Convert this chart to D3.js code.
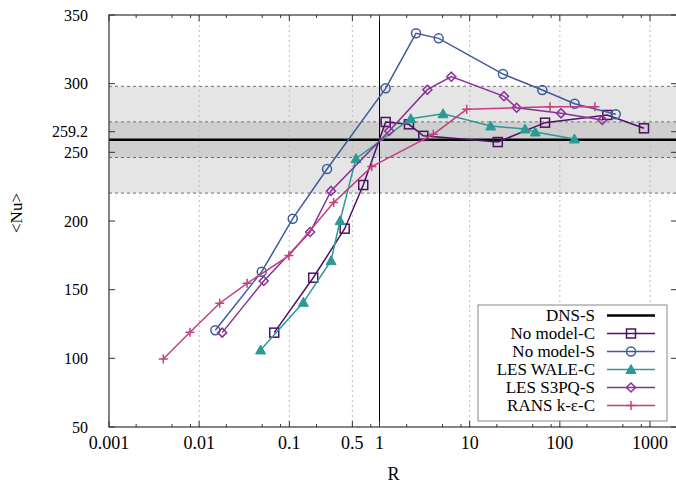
<!DOCTYPE html>
<html>
<head>
<meta charset="utf-8">
<script src="https://cdn.jsdelivr.net/npm/d3@7"></script>
<style>
  body { margin: 0; background: #fff; }
  text { font-family: "Liberation Serif", "DejaVu Serif", serif; fill: #000; }
</style>
</head>
<body>
<div id="chart"></div>
<script>
// reference value and band widths (+-5% and +-15%)
var dnsNu = 259.2;

// x ticks
var xMajor = [0.001, 0.01, 0.1, 0.5, 1, 10, 100, 1000];
var xMajorLabels = ["0.001", "0.01", "0.1", "0.5", "1", "10", "100", "1000"];
var xGrid = [0.01, 0.1, 0.5, 10, 100, 1000];
var xMinor = [0.002, 0.005, 0.008, 0.02, 0.05, 0.08, 0.2, 0.8, 2, 5, 8, 20, 50, 80, 200, 500, 800];

// y ticks (the 259.2 label sits a little above its value)
var yTicks = [50, 100, 150, 200, 250, 265, 300, 350];
var yTickLabels = ["50", "100", "150", "200", "250", "259.2", "300", "350"];

// series
var noModelC_R  = [0.068, 0.184, 0.411, 0.66, 1.17, 2.12, 3.06, 20.5, 68.5, 336, 857];
var noModelC_Nu = [118.7, 158.7, 194.4, 226.2, 272.1, 270.4, 262.0, 257.5, 271.6, 277.2, 267.5];

var noModelS_R  = [0.0151, 0.0494, 0.109, 0.262, 1.17, 2.54, 4.53, 23.4, 63.9, 146, 417];
var noModelS_Nu = [120.4, 163.1, 201.7, 237.9, 296.6, 336.7, 333.0, 307.0, 295.4, 285.4, 277.7];

var waleC_R  = [0.048, 0.143, 0.29, 0.365, 0.548, 2.22, 5.06, 17.1, 41.1, 53.4, 145];
var waleC_Nu = [106.1, 140.8, 171.1, 200.2, 245.4, 274.5, 278.1, 269.2, 267.0, 264.8, 259.7];

var s3pqS_R  = [0.018, 0.052, 0.17, 0.29, 1.28, 3.39, 6.26, 24, 33.2, 103, 296];
var s3pqS_Nu = [118.7, 156.3, 192.0, 221.9, 265.5, 295.6, 305.1, 290.8, 282.5, 278.4, 273.5];

var ransC_R  = [0.004, 0.0079, 0.0169, 0.034, 0.099, 0.31, 0.82, 3.95, 9.27, 77.8, 245];
var ransC_Nu = [99.5, 119.0, 140.1, 154.6, 174.8, 213.4, 239.6, 263.1, 281.3, 283.2, 283.2];

var seriesNames = ["No model-C", "No model-S", "LES WALE-C", "LES S3PQ-S", "RANS k-\u03b5-C"];
var seriesColors = ["#4d1063", "#3f5b9b", "#2b9a94", "#8a2f98", "#c23f80"];
var seriesMarkers = ["square", "circle", "triangle", "diamond", "plus"];

function loadChart() {
  var W = 676, H = 486;
  var left = 109, right = 677, top = 15, bottom = 427;
  var font = "'Liberation Serif', 'DejaVu Serif', serif";

  var svg = d3.select("#chart").append("svg")
    .attr("width", W)
    .attr("height", H)
    .attr("font-family", font);

  var x = d3.scaleLog().domain([0.001, 2000]).range([left, left + 6.301 * 90.17]);
  var y = d3.scaleLinear().domain([50, 350]).range([bottom, top]);

  svg.append("clipPath").attr("id", "plotclip")
    .append("rect").attr("x", left).attr("y", top)
    .attr("width", right - left).attr("height", bottom - top);

  var plot = svg.append("g").attr("clip-path", "url(#plotclip)");

  // +-15% band, then +-5% band
  plot.append("rect")
    .attr("x", left).attr("width", right - left)
    .attr("y", y(dnsNu * 1.15)).attr("height", y(dnsNu * 0.85) - y(dnsNu * 1.15))
    .attr("fill", "#e5e5e5");
  plot.append("rect")
    .attr("x", left).attr("width", right - left)
    .attr("y", y(dnsNu * 1.05)).attr("height", y(dnsNu * 0.95) - y(dnsNu * 1.05))
    .attr("fill", "#cfcfcf");
  [0.85, 0.95, 1.05, 1.15].forEach(function(f) {
    plot.append("line")
      .attr("x1", left).attr("x2", right)
      .attr("y1", y(dnsNu * f)).attr("y2", y(dnsNu * f))
      .attr("stroke", "#707070").attr("stroke-width", 1)
      .attr("stroke-dasharray", "3,3");
  });

  // vertical grid
  plot.selectAll(".vgrid").data(xGrid).enter().append("line")
    .attr("x1", function(d) { return x(d); }).attr("x2", function(d) { return x(d); })
    .attr("y1", top).attr("y2", bottom)
    .attr("stroke", "#bbbbbb").attr("stroke-width", 1)
    .attr("stroke-dasharray", "2,3");

  // R = 1 line
  plot.append("line")
    .attr("x1", x(1)).attr("x2", x(1)).attr("y1", top).attr("y2", bottom)
    .attr("stroke", "#000").attr("stroke-width", 1);

  // DNS line
  plot.append("line")
    .attr("x1", left).attr("x2", right).attr("y1", y(dnsNu)).attr("y2", y(dnsNu))
    .attr("stroke", "#000").attr("stroke-width", 2.5);

  var allR = [noModelC_R, noModelS_R, waleC_R, s3pqS_R, ransC_R];
  var allNu = [noModelC_Nu, noModelS_Nu, waleC_Nu, s3pqS_Nu, ransC_Nu];

  var line = d3.line()
    .x(function(d) { return x(d[0]); })
    .y(function(d) { return y(d[1]); });

  allR.forEach(function(rs, i) {
    var pts = rs.map(function(r, j) { return [r, allNu[i][j]]; });
    var g = plot.append("g");
    g.append("path").datum(pts)
      .attr("d", line)
      .attr("fill", "none")
      .attr("stroke", seriesColors[i])
      .attr("stroke-width", 1.5);
    pts.forEach(function(p) {
      drawMarker(g, seriesMarkers[i], x(p[0]), y(p[1]), seriesColors[i]);
    });
  });

  // frame
  svg.append("rect")
    .attr("x", left).attr("y", top)
    .attr("width", right - left).attr("height", bottom - top)
    .attr("fill", "none").attr("stroke", "#333").attr("stroke-width", 1.2);

  // ticks
  var ticks = svg.append("g").attr("stroke", "#333").attr("stroke-width", 1);
  xMajor.forEach(function(v) {
    ticks.append("line").attr("x1", x(v)).attr("x2", x(v)).attr("y1", bottom).attr("y2", bottom - 6);
    ticks.append("line").attr("x1", x(v)).attr("x2", x(v)).attr("y1", top).attr("y2", top + 6);
  });
  xMinor.forEach(function(v) {
    ticks.append("line").attr("x1", x(v)).attr("x2", x(v)).attr("y1", bottom).attr("y2", bottom - 3);
    ticks.append("line").attr("x1", x(v)).attr("x2", x(v)).attr("y1", top).attr("y2", top + 3);
  });
  yTicks.forEach(function(v) {
    ticks.append("line").attr("x1", left).attr("x2", left + 6).attr("y1", y(v)).attr("y2", y(v));
    ticks.append("line").attr("x1", right).attr("x2", right - 6).attr("y1", y(v)).attr("y2", y(v));
  });

  // tick labels
  svg.append("g").selectAll("text").data(xMajor).enter().append("text")
    .attr("x", function(d) { return x(d); })
    .attr("y", 449)
    .attr("text-anchor", "middle")
    .attr("font-size", "18px")
    .text(function(d, i) { return xMajorLabels[i]; });

  svg.append("g").selectAll("text").data(yTicks).enter().append("text")
    .attr("x", 88)
    .attr("y", function(d) { return y(d) + 5.5; })
    .attr("text-anchor", "end")
    .attr("font-size", "16px")
    .text(function(d, i) { return yTickLabels[i]; });

  // axis titles
  svg.append("text")
    .attr("x", x(1) + 14).attr("y", 480)
    .attr("text-anchor", "middle")
    .attr("font-size", "18px")
    .text("R");
  svg.append("text")
    .attr("transform", "translate(22,213) rotate(-90)")
    .attr("text-anchor", "middle")
    .attr("font-size", "17px")
    .text("<Nu>");

  // legend
  var lg = svg.append("g");
  lg.append("rect")
    .attr("x", 478).attr("y", 305).attr("width", 189).attr("height", 116)
    .attr("fill", "#fff").attr("stroke", "#888").attr("stroke-width", 1);
  var names = ["DNS-S"].concat(seriesNames);
  names.forEach(function(n, i) {
    var ly = 315.5 + i * 18;
    lg.append("text")
      .attr("x", 595).attr("y", ly + 5.5)
      .attr("text-anchor", "end")
      .attr("font-size", "17px")
      .text(n);
    var col = i === 0 ? "#000" : seriesColors[i - 1];
    lg.append("line")
      .attr("x1", 607).attr("x2", 655).attr("y1", ly).attr("y2", ly)
      .attr("stroke", col).attr("stroke-width", i === 0 ? 2.5 : 1.5);
    if (i > 0) drawMarker(lg, seriesMarkers[i - 1], 631, ly, col);
  });
}

function drawMarker(g, type, cx, cy, col) {
  if (type === "square") {
    g.append("rect").attr("x", cx - 4.5).attr("y", cy - 4.5).attr("width", 9).attr("height", 9)
      .attr("fill", "none").attr("stroke", col).attr("stroke-width", 1.5);
  } else if (type === "circle") {
    g.append("circle").attr("cx", cx).attr("cy", cy).attr("r", 4.5)
      .attr("fill", "none").attr("stroke", col).attr("stroke-width", 1.5);
  } else if (type === "triangle") {
    g.append("path")
      .attr("d", "M" + cx + "," + (cy - 5) + "L" + (cx + 5) + "," + (cy + 4) + "L" + (cx - 5) + "," + (cy + 4) + "Z")
      .attr("fill", col).attr("stroke", col).attr("stroke-width", 1);
  } else if (type === "diamond") {
    g.append("path")
      .attr("d", "M" + cx + "," + (cy - 4.5) + "L" + (cx + 4.5) + "," + cy + "L" + cx + "," + (cy + 4.5) + "L" + (cx - 4.5) + "," + cy + "Z")
      .attr("fill", "none").attr("stroke", col).attr("stroke-width", 1.5);
  } else if (type === "plus") {
    g.append("path")
      .attr("d", "M" + (cx - 4.5) + "," + cy + "H" + (cx + 4.5) + "M" + cx + "," + (cy - 4.5) + "V" + (cy + 4.5))
      .attr("fill", "none").attr("stroke", col).attr("stroke-width", 1.5);
  }
}

loadChart();
</script>
</body>
</html>
